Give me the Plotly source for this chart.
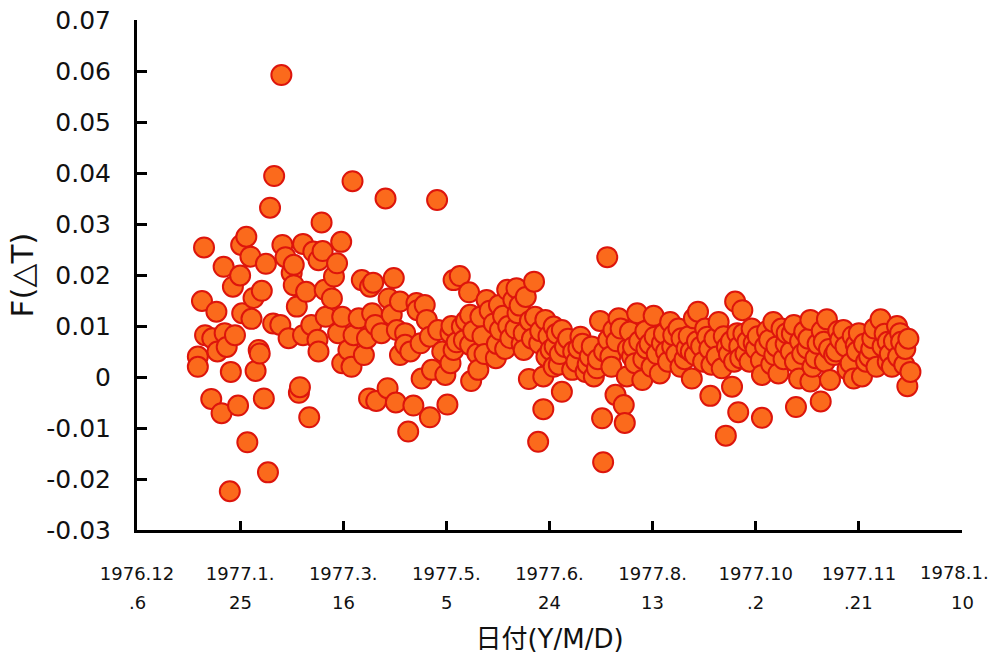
import pandas as pd
import plotly.graph_objects as go

# days since 1976-12-06 and F(dT) values
days = [
    29.5, 29.5, 31.5, 32.5, 33, 36, 36.5, 38.5, 39, 41, 42, 42.5, 43.5, 45, 45.5, 46.5, 47.5, 49, 50,
    50.5, 51, 53, 53.5, 55, 55.5, 56.5, 57.5, 59, 59.5, 60.5, 61.5, 62.5, 63.5, 64.5, 66, 66.5, 69.5, 70,
    70.5, 72, 73.5, 75, 76, 76, 77.5, 78.5, 79, 80.5, 80.5, 82, 83.5, 84.5, 85.5, 87.5, 88, 88, 89.5, 90,
    91, 91.5, 94.5, 95.5, 97, 97.5, 99, 99.5, 99.5, 102.5, 104, 104.5, 105, 107.5, 109, 110, 111.5, 112.5,
    113, 114, 114.5,
    115.5, 116, 118.5, 120.5, 121.5, 122, 123.5, 124.5, 125.5, 126, 127.5, 127.5, 130, 130, 131.5, 132.5,
    134, 135.5, 136, 137.5, 138, 139.5, 140.5, 142, 142, 143, 145.5, 146, 148, 149.5,
    150.5, 152, 152, 152.5, 153.5, 153.5, 155, 156.5, 157.5, 158.5, 159.5, 161, 161.5, 161.5, 162, 163,
    165, 165.5, 166.5, 167.5, 168.5, 169.5, 171, 173, 174, 174.5, 175.5, 176, 177.5, 178.5, 179.5, 180,
    181, 182.5, 183.5, 184, 184.5, 185.5, 186.5, 187.5, 187.5, 188.5, 190, 190.5, 191.5, 192.5, 193,
    194.5, 195, 195.5, 197, 197, 198, 198.5, 199.5, 200.5, 202, 202, 202.5, 203.5, 204.5,
    205, 206, 206, 207.5, 209, 211, 211.5, 213, 214, 215, 216, 217.5, 218.5, 219.5, 220.5, 221.5, 223,
    223.5, 224.5, 225.5, 226, 226.5, 228, 228.5, 229.5, 230, 231, 232, 232.5, 233.5, 234.5, 236, 236.5,
    237.5, 238, 239, 240, 240.5, 241.5, 242.5, 243.5, 245, 245.5, 246.5, 247, 248.5, 249.5, 250.5, 251,
    252, 253.5, 254.5, 255.5, 256.5, 257.5, 258.5, 259.5, 260, 261.5, 262.5, 263.5, 264, 265.5, 266.5,
    267.5, 268.5, 269, 270, 270.5, 271.5, 272, 273.5, 274.5, 275.5, 276.5, 277.5, 278, 278.5, 280, 281,
    282, 283.5, 284.5, 285.5, 286, 287, 288, 288.5, 289.5,
    290, 291, 291.5, 292, 292.5, 293.5, 294, 295, 296, 297, 298, 299, 300, 301, 302.5, 303, 303, 304.5,
    305.5, 306.5, 307.5, 308.5, 309, 310, 311, 312.5, 313.5, 314.5, 315, 317, 317.5, 318.5, 319, 319.5,
    321, 321.5, 322.5, 323.5, 325, 325.5, 326.5, 326.5, 327.5, 329, 330, 331.5, 332, 333, 333.5, 334.5,
    335.5, 336, 338, 339, 340, 341, 342.5, 343.5, 344.5, 346, 347, 347.5, 348.5, 349, 350, 351.5, 352.5,
    353.5, 355, 356, 356.5, 357.5, 358.5, 360.5, 361.5, 362.5, 364, 364, 365, 366, 367, 368.5, 369, 370,
    370.5, 372, 372.5, 373.5, 374, 375,
]
values = [
    0.0040, 0.0020, 0.0149, 0.0254, 0.0082, -0.0043, 0.0076, 0.0128, 0.0050, -0.0071, 0.0216, 0.0086,
    0.0059, -0.0224, 0.0010, 0.0177, 0.0082, -0.0056, 0.0199,
    0.0259, 0.0125, 0.0275, -0.0128, 0.0236, 0.0114, 0.0155, 0.0012, 0.0053, 0.0046, 0.0169, -0.0042,
    0.0222, -0.0187, 0.0332, 0.0105, 0.0394, 0.0102, 0.0592,
    0.0259, 0.0235, 0.0076, 0.0204, 0.0220, 0.0180, 0.0138, -0.0031, -0.0020, 0.0261, 0.0082, 0.0167,
    -0.0079, 0.0102, 0.0246, 0.0073, 0.0050, 0.0229, 0.0303, 0.0247,
    0.0171, 0.0118, 0.0154, 0.0197, 0.0223, 0.0086, 0.0265, 0.0118, 0.0027, 0.0053, 0.0020, 0.0384,
    0.0082, 0.0115, 0.0190, 0.0043, 0.0076, -0.0042,
    0.0177, 0.0125, 0.0185,
    0.0102, -0.0047, 0.0086, 0.0350, -0.0022, 0.0154, 0.0122, 0.0194, -0.0050, 0.0092, 0.0148, 0.0043,
    0.0086, 0.0063, -0.0107, 0.0050,
    -0.0056, 0.0145, 0.0131, 0.0066, -0.0003, 0.0141, 0.0112, -0.0079, 0.0079, 0.0014, 0.0347, 0.0092,
    0.0050, 0.0004,
    -0.0054, 0.0086, 0.0027, 0.0100, 0.0190, 0.0053, 0.0068, 0.0198, 0.0099, 0.0072, 0.0110, 0.0166,
    0.0122, 0.0063, -0.0008, 0.0090,
    0.0046, 0.0014, 0.0118, 0.0080, 0.0045, 0.0151, 0.0130, 0.0105, 0.0037, 0.0065, 0.0141, 0.0092,
    0.0120, 0.0055, 0.0171, 0.0100,
    0.0076, 0.0151, 0.0095, 0.0174, 0.0125, 0.0140, 0.0065, 0.0086, 0.0053, 0.0157, -0.0004, 0.0110,
    0.0075, 0.0187, 0.0118,
    -0.0127, 0.0066, 0.0090, -0.0063, 0.0001, 0.0112, 0.0040, 0.0080, 0.0053, 0.0099, 0.0020, 0.0060,
    0.0085, 0.0024,
    0.0045, 0.0092, -0.0029, 0.0059, 0.0075, 0.0014, 0.0050, 0.0030, 0.0056, 0.0079, 0.0065, 0.0010,
    0.0025, 0.0040, 0.0060, 0.0001, 0.0017,
    0.0035, 0.0110, -0.0081, -0.0167, 0.0050, 0.0235, 0.0073, 0.0040, 0.0020, 0.0092, -0.0035, 0.0070,
    0.0115, 0.0095, -0.0055, -0.0090,
    0.0001, 0.0055, 0.0089, 0.0040, 0.0059, 0.0027, 0.0125, 0.0070, -0.0006, 0.0035, 0.0090, 0.0056,
    0.0065, 0.0020, 0.0120, 0.0079,
    0.0045, 0.0007, 0.0066, 0.0085, 0.0050, 0.0030, 0.0108, 0.0060, 0.0082, 0.0045, 0.0095, 0.0020,
    0.0076, 0.0035, 0.0056,
    0.0080, 0.0050, -0.0003, 0.0115, 0.0043, 0.0070, 0.0128, 0.0060, 0.0030, 0.0095, 0.0079, 0.0055,
    -0.0037, 0.0024, 0.0075, 0.0040,
    0.0108, 0.0017, 0.0080, -0.0115, 0.0059, 0.0045, 0.0070, -0.0019, 0.0030,
    0.0148, 0.0086, -0.0069, 0.0060, 0.0037, 0.0131, 0.0085, 0.0046, 0.0070, 0.0030, 0.0095, 0.0066,
    0.0055, 0.0080, 0.0033, -0.0080, 0.0004, 0.0060,
    0.0090, 0.0073, 0.0025, 0.0108, 0.0043, 0.0060, 0.0007, 0.0095, 0.0035, 0.0065, 0.0086, 0.0050,
    0.0085, 0.0102, 0.0030, -0.0059,
    -0.0003, 0.0070, 0.0045, 0.0089, 0.0056, 0.0075, 0.0112, -0.0009, 0.0020, 0.0037, 0.0065, -0.0048,
    0.0090, 0.0069, 0.0030, 0.0113,
    0.0055, -0.0006, 0.0043, 0.0050, 0.0090, 0.0073, 0.0092, 0.0060, 0.0015, 0.0027, 0.0080, -0.0003,
    0.0063, 0.0050, 0.0086, 0.0001, 0.0065,
    0.0030, 0.0040, 0.0055, 0.0076, 0.0095, 0.0020, 0.0113, 0.0060, 0.0085, 0.0069, 0.0030, 0.0045,
    0.0020, 0.0070, 0.0100, 0.0040, 0.0086,
    0.0069, 0.0024, 0.0055, -0.0018, 0.0075, 0.0010,
]

start_date = "1976-12-06"
tick_dates = ["1976-12-06", "1977-01-25", "1977-03-16", "1977-05-05", "1977-06-24",
              "1977-08-13", "1977-10-02", "1977-11-21", "1978-01-10"]
tick_line1 = ["1976.12", "1977.1.", "1977.3.", "1977.5.", "1977.6.",
              "1977.8.", "1977.10", "1977.11", "1978.1."]
tick_line2 = [".6", "25", "16", "5", "24", "13", ".2", ".21", "10"]
y_ticks = [-0.03, -0.02, -0.01, 0, 0.01, 0.02, 0.03, 0.04, 0.05, 0.06, 0.07]
y_labels = ["-0.03", "-0.02", "-0.01", "0", "0.01", "0.02", "0.03", "0.04", "0.05", "0.06", "0.07"]

n = min(len(days), len(values))
dates = pd.Timestamp(start_date) + pd.to_timedelta(pd.Series(days[:n]), unit="D")

FONT = "DejaVu Sans, Noto Sans CJK JP, sans-serif"
TXT = "#111111"

fig = go.Figure()
fig.add_trace(go.Scatter(
    x=dates, y=values[:n], mode="markers",
    marker=dict(size=20, color="#FB6A1C", line=dict(color="#DD150C", width=2)),
    showlegend=False, cliponaxis=False,
))

annotations = []
# second line of every date label
for d, t in zip(tick_dates, tick_line2):
    annotations.append(dict(x=d, xref="x", y=-0.143, yref="paper", text=t,
                            showarrow=False, yanchor="middle", xanchor="center",
                            font=dict(family=FONT, size=18, color=TXT)))
# last first-line label sits slightly left of its tick so it stays inside the page
annotations.append(dict(x=tick_dates[-1], xref="x", y=-0.084, yref="paper", text=tick_line1[-1],
                        showarrow=False, yanchor="middle", xanchor="center", xshift=-8,
                        font=dict(family=FONT, size=18, color=TXT)))
axis_text = tick_line1[:-1] + [""]

fig.update_layout(
    width=995, height=659,
    margin=dict(l=137, r=33, t=20, b=129, autoexpand=False),
    paper_bgcolor="white", plot_bgcolor="white",
    font=dict(family=FONT, color=TXT),
    annotations=annotations,
    xaxis=dict(
        range=[tick_dates[0], tick_dates[-1]],
        tickvals=tick_dates, ticktext=axis_text,
        tickfont=dict(size=18),
        ticks="inside", ticklen=9, tickwidth=3, tickcolor="black",
        showline=True, linewidth=3, linecolor="black",
        showgrid=False, zeroline=False, automargin=False,
        ticklabelstandoff=25, ticklabeloverflow="allow",
        title=dict(text="日付(Y/M/D)", font=dict(size=26), standoff=48),
    ),
    yaxis=dict(
        range=[-0.03, 0.07],
        tickvals=y_ticks, ticktext=y_labels,
        tickfont=dict(size=25),
        ticks="inside", ticklen=10, tickwidth=3, tickcolor="black",
        showline=True, linewidth=3, linecolor="black",
        showgrid=False, zeroline=False, automargin=False,
        ticklabelstandoff=18, ticklabeloverflow="allow",
        title=dict(text="F(△T)", font=dict(size=31), standoff=4),
    ),
)

fig.write_html(
    "out.html",
    config={"displayModeBar": False},
    post_script="document.body.style.margin='0';document.body.style.overflow='hidden';",
)
